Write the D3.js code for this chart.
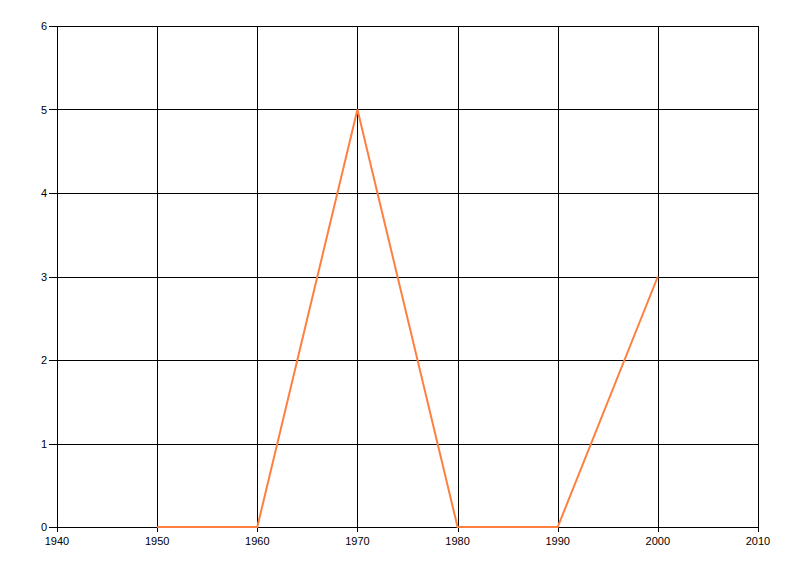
<!DOCTYPE html>
<html><head><meta charset="utf-8">
<script src="https://cdn.jsdelivr.net/npm/d3@7"></script>
<style>body{margin:0;background:#fff}svg{display:block}text{font-family:"Liberation Sans","DejaVu Sans",sans-serif;font-size:11px;fill:#000}</style>
</head><body><svg id="c" width="800" height="576"></svg>
<script>
const years = [1950, 1960, 1970, 1980, 1990, 2000];
const values = [0, 0, 5, 0, 0, 3];
const xTicks = [1940, 1950, 1960, 1970, 1980, 1990, 2000, 2010];
const yTicks = [0, 1, 2, 3, 4, 5, 6];

const svg = d3.select("#c");
const m = {l:57, t:26, r:758, b:527};
const x = d3.scaleLinear().domain([1940, 2010]).range([m.l, m.r]);
const y = d3.scaleLinear().domain([0, 6]).range([m.b, m.t]);

const g = svg.append("g");
// grid
g.selectAll("line.v").data(xTicks).join("line")
  .attr("x1", d => Math.round(x(d)) + 0.5).attr("x2", d => Math.round(x(d)) + 0.5)
  .attr("y1", m.t).attr("y2", m.b + 5).attr("stroke", "#000");
g.selectAll("line.h").data(yTicks).join("line")
  .attr("y1", d => Math.round(y(d)) + 0.5).attr("y2", d => Math.round(y(d)) + 0.5)
  .attr("x1", m.l - 8).attr("x2", m.r + 0.5).attr("stroke", "#000");

// line
const line = d3.line().x((d, i) => x(years[i])).y(d => y(d));
svg.append("path").datum(values).attr("d", line)
  .attr("fill", "none").attr("stroke", "#ff7f3f").attr("stroke-width", 2);

// labels
svg.selectAll("text.x").data(xTicks).join("text")
  .attr("x", d => x(d)).attr("y", m.b + 18).attr("text-anchor", "middle").text(d => d);
svg.selectAll("text.y").data(yTicks).join("text")
  .attr("x", m.l - 10).attr("y", d => y(d) + 4).attr("text-anchor", "end").text(d => d);
</script></body></html>
